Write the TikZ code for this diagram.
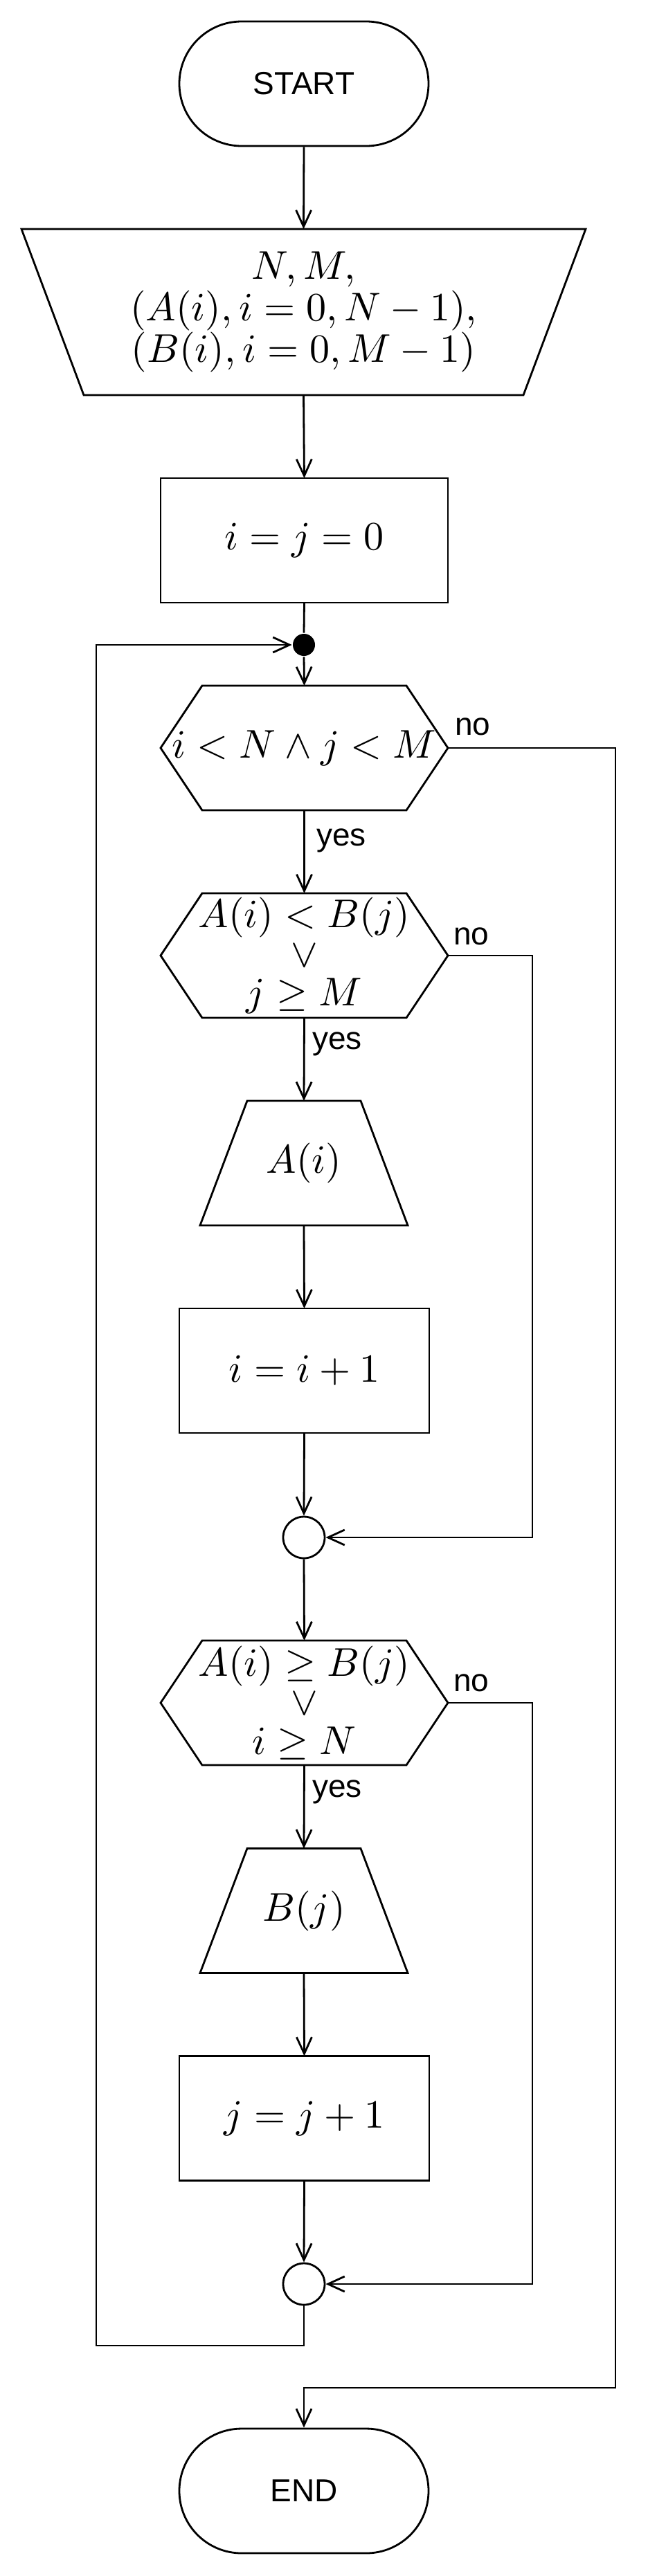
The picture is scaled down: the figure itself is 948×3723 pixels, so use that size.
\documentclass[tikz,border=0pt]{standalone}
\usepackage{graphicx}
\usepackage[no-math]{fontspec}
\setmainfont{Liberation Sans}
\usetikzlibrary{arrows.meta}
\newcommand\hexpath[1]{\draw (#1.west) -- ([xshift=60pt]#1.north west) -- ([xshift=-60pt]#1.north east) -- (#1.east) -- ([xshift=-60pt]#1.south east) -- ([xshift=60pt]#1.south west) -- cycle;}
\newcommand\trappath[3]{\draw ([xshift=#2]#1.north west) -- ([xshift=-#2]#1.north east) -- ([xshift=-#3]#1.south east) -- ([xshift=#3]#1.south west) -- cycle;}
\newcommand\mth[1]{\scalebox{5.8}{$#1$}}
\newcommand\mlines[2]{\scalebox{5.8}{\vbox{\baselineskip=#1\lineskiplimit=-100pt\lineskip=0pt\halign{\hfil##\hfil\cr#2\crcr}}}}
\begin{document}
\begin{tikzpicture}[x=1pt,y=-1pt,line width=2.8pt,
  lbl/.style={font=\fontsize{46}{55}\selectfont,inner sep=0pt,anchor=base west},
  mnode/.style={inner sep=0pt,outer sep=0pt},
  arr/.style={-{Straight Barb[length=24pt,width=22pt]}},
  term/.style={draw,rounded corners=90pt,minimum width=360pt,minimum height=180pt,inner sep=0pt,font=\fontsize{46}{55}\selectfont},
  procbox/.style={draw,mnode},
  joint/.style={draw,circle,minimum size=60pt,inner sep=0pt},
  dotn/.style={fill,circle,minimum size=32pt,inner sep=0pt}]
\useasboundingbox (0,0) rectangle (948,3723);

\node[term] (start) at (439,121) {START};
\node[mnode,minimum width=815pt,minimum height=240pt] (t1) at (438.5,451)
  {\mlines{10.3pt}{$N, M,$\cr$(A(i), i=0, N-1),$\cr$(B(i), i=0, M-1)$}};
\trappath{t1}{0pt}{90pt}
\node[procbox,minimum width=415pt,minimum height=180pt] (r1) at (439.5,781) {\mth{i=j=0}};
\node[dotn] (dot) at (439,932) {};
\node[mnode,minimum width=415pt,minimum height=180pt] (hx1) at (439.5,1081) {\mth{i<N\wedge j<M}};
\hexpath{hx1}
\node[mnode,minimum width=415pt,minimum height=180pt] (hx2) at (439.5,1381) {\mlines{9.8pt}{$A(i)<B(j)$\cr$\vee$\cr$j\ge M$}};
\hexpath{hx2}
\node[mnode,minimum width=300pt,minimum height=180pt] (ta) at (439,1681) {\mth{A(i)}};
\trappath{ta}{68pt}{0pt}
\node[procbox,minimum width=361pt,minimum height=180pt] (r2) at (439.5,1981) {\mth{i=i+1}};
\node[joint] (c1) at (439,2222) {};
\node[mnode,minimum width=415pt,minimum height=180pt] (hx3) at (439.5,2461) {\mlines{9.7pt}{$A(i)\ge B(j)$\cr$\vee$\cr$i\ge N$}};
\hexpath{hx3}
\node[mnode,minimum width=300pt,minimum height=180pt] (tb) at (439,2761.5) {\mth{B(j)}};
\trappath{tb}{68pt}{0pt}
\node[procbox,minimum width=361pt,minimum height=180pt] (r3) at (439.5,3061.5) {\mth{j=j+1}};
\node[joint] (c2) at (439,3301) {};
\node[term] (endn) at (439,3600) {END};

\coordinate (o1) at (889,3451);
\coordinate (n2) at (769,2222);
\coordinate (n3) at (769,3301);
\coordinate (lp) at (139,3390);

\draw[arr] (start.south) -- (t1.north);
\draw[arr] (t1.south) -- (r1.north);
\draw (r1.south) -- (dot.north);
\draw[arr] (dot.south) -- (hx1.north);
\draw[arr] (hx1.south) -- (hx2.north);
\draw[arr] (hx2.south) -- (ta.north);
\draw[arr] (ta.south) -- (r2.north);
\draw[arr] (r2.south) -- (c1.north);
\draw[arr] (c1.south) -- (hx3.north);
\draw[arr] (hx3.south) -- (tb.north);
\draw[arr] (tb.south) -- (r3.north);
\draw[arr] (r3.south) -- (c2.north);

\draw[arr] (hx1.east) -| (o1) -| (endn.north);
\draw[arr] (hx2.east) -| (n2) -- (c1.east);
\draw[arr] (hx3.east) -| (n3) -- (c2.east);
\draw[arr] (c2.south) |- (lp) |- (dot.west);

\node[lbl] (no1) at (656,1062) {no};
\node[lbl] (yes1) at (456,1222) {yes};
\node[lbl] (no2) at (654,1365) {no};
\node[lbl] (yes2) at (450,1516) {yes};
\node[lbl] (no3) at (654,2444) {no};
\node[lbl] (yes3) at (450,2597) {yes};
\end{tikzpicture}
\end{document}
